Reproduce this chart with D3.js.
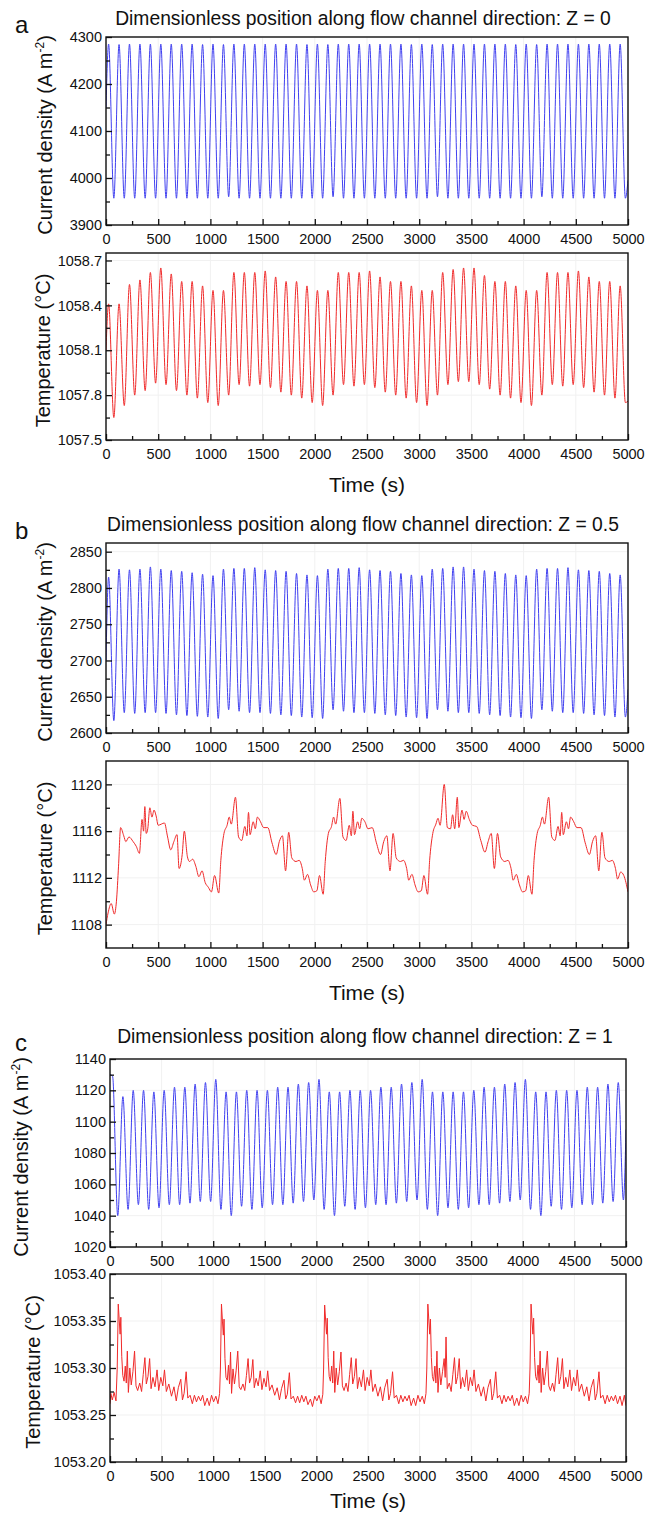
<!DOCTYPE html>
<html>
<head>
<meta charset="utf-8">
<script src="https://cdn.jsdelivr.net/npm/d3@7/dist/d3.min.js"></script>
<style>
  body { margin: 0; background: #fff; }
  text { font-family: "Liberation Sans", Arial, sans-serif; fill: #111; }
</style>
</head>
<body>
<div id="viz"></div>
<script>
// ---- shared x data (time of oscillation maxima / minima, s) ----
const xTicks = [0, 500, 1000, 1500, 2000, 2500, 3000, 3500, 4000, 4500, 5000];
const xMinor = [250, 750, 1250, 1750, 2250, 2750, 3250, 3750, 4250, 4750];
const peakT = [25,125,225,325,425,525,625,725,825,925,1025,1125,1225,1325,1425,1525,1625,1725,1825,1925,
  2025,2125,2225,2325,2425,2525,2625,2725,2825,2925,3025,3125,3225,3325,3425,3525,3625,3725,3825,3925,
  4025,4125,4225,4325,4425,4525,4625,4725,4825,4925];
const troughT = [75,175,275,375,475,575,675,775,875,975,1075,1175,1275,1375,1475,1575,1675,1775,1875,1975,
  2075,2175,2275,2375,2475,2575,2675,2775,2875,2975,3075,3175,3275,3375,3475,3575,3675,3775,3875,3975,
  4075,4175,4275,4375,4475,4575,4675,4775,4875,4975];

// ---- panel a : Z = 0 ----
const aCurStart = [0, 4150], aCurEnd = [5000, 3995];
const aCurPeaks = [4285,4284,4285,4285,4285,4285,4285,4285,4285,4284,4285,4284,4285,4285,4285,4285,4285,4285,4285,4284,
  4285,4284,4285,4285,4285,4285,4285,4285,4285,4284,4285,4284,4285,4285,4285,4285,4285,4285,4285,4284,
  4285,4284,4285,4285,4285,4285,4285,4285,4285,4285];
const aCurTroughs = [3957,3957,3957,3957,3957,3957,3957,3957,3957,3957,3957,3960,3957,3957,3957,3957,3957,3957,3957,3957,
  3957,3960,3957,3957,3957,3957,3957,3957,3957,3957,3957,3960,3957,3957,3957,3957,3957,3957,3957,3957,
  3957,3960,3957,3957,3957,3957,3957,3957,3957,3957];
const aTempStart = [0, 1058.1], aTempEnd = [5000, 1057.76];
const aTempPeaks = [1058.41,1058.41,1058.54,1058.57,1058.62,1058.65,1058.61,1058.56,1058.56,1058.53,
  1058.50,1058.50,1058.62,1058.62,1058.62,1058.63,1058.59,1058.56,1058.56,1058.53,
  1058.50,1058.50,1058.62,1058.62,1058.62,1058.63,1058.59,1058.56,1058.56,1058.53,
  1058.50,1058.50,1058.62,1058.64,1058.65,1058.65,1058.60,1058.56,1058.56,1058.53,
  1058.50,1058.50,1058.62,1058.62,1058.62,1058.63,1058.59,1058.56,1058.56,1058.53];
const aTempTroughs = [1057.65,1057.73,1057.80,1057.83,1057.88,1057.87,1057.83,1057.80,1057.78,1057.75,
  1057.73,1057.80,1057.87,1057.86,1057.87,1057.85,1057.82,1057.80,1057.78,1057.75,
  1057.73,1057.80,1057.87,1057.86,1057.87,1057.85,1057.82,1057.80,1057.78,1057.75,
  1057.73,1057.80,1057.87,1057.89,1057.89,1057.87,1057.84,1057.80,1057.78,1057.75,
  1057.73,1057.80,1057.87,1057.86,1057.87,1057.85,1057.82,1057.80,1057.78,1057.75];

// ---- panel b : Z = 0.5 ----
const bCurStart = [0, 2700], bCurEnd = [5000, 2660];
const bCurPeaks = [2815,2826,2825,2826,2829,2826,2824,2823,2821,2819,
  2817,2826,2827,2827,2828,2825,2824,2823,2820,2818,
  2817,2826,2827,2827,2828,2825,2824,2823,2820,2818,
  2817,2826,2827,2829,2829,2826,2824,2823,2820,2818,
  2817,2826,2827,2827,2828,2825,2824,2823,2820,2818];
const bCurTroughs = [2617,2628,2627,2628,2628,2627,2625,2624,2623,2622,
  2620,2632,2630,2628,2628,2627,2625,2624,2622,2621,
  2620,2632,2630,2628,2628,2627,2625,2624,2622,2621,
  2620,2632,2630,2628,2628,2627,2625,2624,2622,2621,
  2620,2632,2630,2628,2628,2627,2625,2624,2622,2622];
const bTemp = [
  [0,1108],[20,1109],[50,1109.8],[80,1108.9],[100,1110],[120,1113],[140,1116.3],[170,1115.6],[190,1115.1],
  [220,1115.5],[260,1115.1],[290,1114.7],[320,1114.1],[345,1117],[360,1116],[372,1118.1],[385,1115.8],
  [400,1116.2],[420,1118],[440,1117.2],[460,1117.8],[480,1117.3],[500,1116.5],[530,1116.6],[560,1116.7],
  [590,1115.5],[620,1114.4],[650,1115.1],[680,1115.7],[700,1112.8],[730,1114],[750,1116],[780,1113.8],
  [800,1113.4],[830,1113.6],[860,1113],[890,1112.1],[920,1112.6],[950,1111.6],[980,1111.2],[1010,1110.8],
  [1040,1112.2],[1080,1110.7],
  [1100,1113.5],[1130,1115.8],[1160,1116.5],[1180,1117.2],[1200,1116.6],[1240,1118.9],[1270,1115.5],
  [1300,1115.2],[1330,1116.4],[1350,1115.6],[1365,1117.6],[1380,1115.7],[1410,1116.8],[1430,1116.2],
  [1450,1117.2],[1480,1116.8],[1510,1116.3],[1550,1116.3],[1590,1115],[1630,1114],[1660,1115.1],
  [1690,1115.6],[1720,1112.6],[1750,1115.9],[1780,1113.7],[1820,1113.4],[1850,1113.5],[1880,1112.8],
  [1900,1111.8],[1930,1112.3],[1960,1111.4],[1990,1110.8],[2020,1110.9],[2045,1112.2],[2080,1110.6],
  [2100,1113.4],[2130,1115.8],[2160,1116.4],[2180,1117.2],[2200,1116.6],[2240,1118.8],[2270,1115.5],
  [2300,1115.2],[2330,1116.5],[2350,1115.6],[2365,1117.7],[2380,1115.7],[2410,1116.8],[2430,1116.2],
  [2450,1117.1],[2480,1116.8],[2510,1116.2],[2550,1116.3],[2590,1115],[2630,1114],[2660,1115.1],
  [2690,1115.6],[2720,1112.6],[2750,1115.8],[2780,1113.7],[2820,1113.4],[2850,1113.5],[2880,1112.8],
  [2900,1111.8],[2930,1112.3],[2960,1111.4],[2990,1110.8],[3020,1110.9],[3045,1112.2],[3080,1110.6],
  [3100,1113.5],[3130,1115.8],[3160,1116.6],[3180,1117.1],[3200,1116.5],[3240,1120],[3270,1116.3],
  [3300,1116.2],[3320,1117.4],[3340,1116.2],[3365,1118.9],[3380,1116.3],[3410,1117.8],[3430,1117],
  [3450,1117.7],[3480,1117],[3510,1116.5],[3550,1116.4],[3590,1115.2],[3630,1114.2],[3660,1115.1],
  [3690,1115.8],[3720,1112.8],[3750,1115.8],[3780,1113.8],[3820,1113.4],[3850,1113.5],[3880,1112.8],
  [3900,1111.8],[3930,1112.3],[3960,1111.4],[3990,1110.8],[4020,1110.9],[4045,1112.2],[4080,1110.6],
  [4100,1113.5],[4130,1115.8],[4160,1116.5],[4180,1117.2],[4200,1116.6],[4240,1118.9],[4270,1115.5],
  [4300,1115.2],[4330,1116.4],[4350,1115.6],[4365,1117.6],[4380,1115.7],[4410,1116.8],[4430,1116.2],
  [4450,1117.2],[4480,1116.8],[4510,1116.3],[4550,1116.3],[4590,1115],[4630,1114],[4660,1115.1],
  [4690,1115.6],[4720,1112.6],[4750,1115.9],[4780,1113.7],[4820,1113.4],[4850,1113.5],[4880,1112.8],
  [4900,1111.9],[4930,1112.5],[4960,1112.2],[5000,1110.8]
];

// ---- panel c : Z = 1 ----
const cCurStart = [0, 1130], cCurEnd = [5000, 1095];
const cCurPeaks = [1129,1116,1120,1120,1119,1120,1122,1122,1124,1125,
  1127,1119,1119,1120,1120,1120,1122,1122,1124,1125,
  1127,1119,1119,1120,1120,1120,1122,1122,1124,1125,
  1127,1119,1119,1119,1119,1120,1122,1122,1124,1125,
  1127,1119,1119,1120,1120,1120,1122,1122,1124,1125];
const cCurTroughs = [1040,1044,1047,1044,1045,1047,1047,1048,1049,1049,
  1044,1040,1046,1044,1045,1047,1047,1048,1049,1050,
  1044,1040,1046,1044,1045,1047,1047,1048,1049,1050,
  1044,1040,1045,1044,1045,1047,1047,1048,1049,1050,
  1044,1040,1046,1044,1045,1047,1047,1048,1049,1050];
const cTemp = [
  [0,1053.262],[8,1053.273],[22,1053.266],[40,1053.274],[58,1053.265],[70,1053.300],[80,1053.368],[90,1053.350],
  [98,1053.336],[105,1053.354],[114,1053.312],[124,1053.292],[136,1053.286],[148,1053.302],[158,1053.284],
  [168,1053.318],[178,1053.274],[192,1053.300],[206,1053.282],[222,1053.296],[238,1053.318],[252,1053.281],
  [268,1053.276],[288,1053.284],[306,1053.275],[322,1053.293],[338,1053.311],[352,1053.283],[368,1053.291],
  [384,1053.310],[398,1053.278],[416,1053.290],[436,1053.280],[456,1053.298],[472,1053.276],[492,1053.290],
  [512,1053.281],[528,1053.298],[546,1053.275],[570,1053.283],[596,1053.270],[620,1053.280],[642,1053.265],
  [662,1053.279],[686,1053.288],[702,1053.266],[718,1053.273],[738,1053.296],[754,1053.268],[776,1053.271],
  [798,1053.262],[818,1053.271],[838,1053.264],[858,1053.270],[878,1053.265],[898,1053.271],[918,1053.260],
  [942,1053.268],[962,1053.260],[984,1053.271],[1004,1053.264],[1026,1053.270],[1046,1053.262],[1062,1053.273],
  [1070,1053.300],[1080,1053.368],[1090,1053.349],[1098,1053.335],[1105,1053.352],[1114,1053.310],[1124,1053.290],
  [1136,1053.287],[1148,1053.303],[1158,1053.283],[1168,1053.317],[1178,1053.273],[1192,1053.299],[1206,1053.283],
  [1222,1053.297],[1238,1053.318],[1252,1053.280],[1268,1053.277],[1288,1053.283],[1306,1053.276],[1322,1053.292],
  [1338,1053.310],[1352,1053.284],[1368,1053.290],[1384,1053.309],[1398,1053.279],[1416,1053.289],[1436,1053.281],
  [1456,1053.297],[1472,1053.277],[1492,1053.289],[1512,1053.280],[1528,1053.297],[1546,1053.276],[1570,1053.282],
  [1596,1053.271],[1620,1053.279],[1642,1053.266],[1662,1053.278],[1686,1053.287],[1702,1053.267],[1718,1053.272],
  [1738,1053.295],[1754,1053.267],[1776,1053.270],[1798,1053.263],[1818,1053.270],[1838,1053.263],[1858,1053.271],
  [1878,1053.264],[1898,1053.270],[1918,1053.261],[1942,1053.267],[1962,1053.259],[1984,1053.270],[2004,1053.265],
  [2026,1053.271],[2046,1053.262],[2062,1053.272],
  [2070,1053.300],[2080,1053.367],[2090,1053.350],[2098,1053.336],[2105,1053.353],[2114,1053.311],[2124,1053.291],
  [2136,1053.286],[2148,1053.302],[2158,1053.284],[2168,1053.318],[2178,1053.274],[2192,1053.300],[2206,1053.282],
  [2222,1053.296],[2238,1053.317],[2252,1053.281],[2268,1053.276],[2288,1053.284],[2306,1053.275],[2322,1053.293],
  [2338,1053.311],[2352,1053.283],[2368,1053.291],[2384,1053.310],[2398,1053.278],[2416,1053.290],[2436,1053.280],
  [2456,1053.298],[2472,1053.276],[2492,1053.290],[2512,1053.281],[2528,1053.298],[2546,1053.275],[2570,1053.283],
  [2596,1053.270],[2620,1053.280],[2642,1053.265],[2662,1053.279],[2686,1053.288],[2702,1053.266],[2718,1053.273],
  [2738,1053.296],[2754,1053.268],[2776,1053.271],[2798,1053.262],[2818,1053.271],[2838,1053.264],[2858,1053.270],
  [2878,1053.265],[2898,1053.271],[2918,1053.260],[2942,1053.268],[2962,1053.260],[2984,1053.271],[3004,1053.264],
  [3026,1053.270],[3046,1053.262],[3062,1053.273],
  [3070,1053.300],[3080,1053.368],[3090,1053.350],[3098,1053.336],[3105,1053.352],[3114,1053.311],[3124,1053.291],
  [3136,1053.286],[3148,1053.302],[3158,1053.284],[3168,1053.318],[3178,1053.274],[3192,1053.300],[3206,1053.282],
  [3222,1053.296],[3238,1053.310],[3248,1053.290],[3256,1053.333],[3268,1053.278],[3288,1053.284],[3306,1053.275],
  [3322,1053.293],[3338,1053.311],[3352,1053.283],[3368,1053.291],[3384,1053.310],[3398,1053.278],[3416,1053.290],
  [3436,1053.280],[3456,1053.298],[3472,1053.276],[3492,1053.290],[3512,1053.281],[3528,1053.298],[3546,1053.275],
  [3570,1053.283],[3596,1053.270],[3620,1053.280],[3642,1053.265],[3662,1053.279],[3686,1053.288],[3702,1053.266],
  [3718,1053.273],[3738,1053.296],[3754,1053.268],[3776,1053.271],[3798,1053.262],[3818,1053.271],[3838,1053.264],
  [3858,1053.270],[3878,1053.265],[3898,1053.271],[3918,1053.260],[3942,1053.268],[3962,1053.260],[3984,1053.271],
  [4004,1053.264],[4026,1053.270],[4046,1053.262],[4062,1053.273],
  [4070,1053.300],[4080,1053.368],[4090,1053.349],[4098,1053.336],[4105,1053.353],[4114,1053.311],[4124,1053.291],
  [4136,1053.287],[4148,1053.303],[4158,1053.284],[4168,1053.318],[4178,1053.274],[4192,1053.300],[4206,1053.282],
  [4222,1053.296],[4238,1053.318],[4252,1053.281],[4268,1053.276],[4288,1053.284],[4306,1053.275],[4322,1053.293],
  [4338,1053.311],[4352,1053.283],[4368,1053.291],[4384,1053.310],[4398,1053.278],[4416,1053.290],[4436,1053.280],
  [4456,1053.298],[4472,1053.276],[4492,1053.290],[4512,1053.281],[4528,1053.298],[4546,1053.275],[4570,1053.283],
  [4596,1053.270],[4620,1053.280],[4642,1053.265],[4662,1053.279],[4686,1053.288],[4702,1053.266],[4718,1053.273],
  [4738,1053.296],[4754,1053.268],[4776,1053.271],[4798,1053.262],[4818,1053.271],[4838,1053.264],[4858,1053.270],
  [4878,1053.265],[4898,1053.271],[4918,1053.262],[4942,1053.270],[4962,1053.260],[4984,1053.271],[5000,1053.260]
];

const blue = "#4040f0", red = "#f02a2a";

// interleave maxima / minima into one polyline
function oscillation(start, peaks, troughs, end) {
  const pts = [start];
  peaks.forEach((p, i) => { pts.push([peakT[i], p]); pts.push([troughT[i], troughs[i]]); });
  pts.push(end);
  return pts;
}

const svg = d3.select("#viz").append("svg")
  .attr("width", 646).attr("height", 1516)
  .style("background", "#fff");

let clipId = 0;

function drawPanel({left, right, top, height, yDomain, yTicks, yMinor, yFmt, data, color, curve, yLabel, labelX, xTitle}) {
  const bottom = top + height,
        x = d3.scaleLinear().domain([0, 5000]).range([left, right]),
        y = d3.scaleLinear().domain(yDomain).range([bottom, top]),
        g = svg.append("g");

  // faint grid
  g.append("g").selectAll("line").data(xTicks).join("line")
    .attr("x1", d => x(d)).attr("x2", d => x(d)).attr("y1", top).attr("y2", bottom)
    .attr("stroke", "#f1f1f1").attr("stroke-width", 1);
  g.append("g").selectAll("line").data(yTicks).join("line")
    .attr("x1", left).attr("x2", right).attr("y1", d => y(d)).attr("y2", d => y(d))
    .attr("stroke", "#f1f1f1").attr("stroke-width", 1);

  const id = "clip" + (clipId++);
  svg.append("clipPath").attr("id", id).append("rect")
    .attr("x", left).attr("y", top).attr("width", right - left).attr("height", height);

  const line = d3.line().x(d => x(d[0])).y(d => y(d[1])).curve(curve);
  g.append("path")
    .attr("clip-path", `url(#${id})`)
    .attr("d", line(data))
    .style("fill", "none")
    .style("stroke", color)
    .style("stroke-width", 1);

  // axes, ticks pointing inward
  g.append("g").attr("transform", `translate(0,${bottom})`)
    .call(d3.axisBottom(x).tickValues(xTicks).tickSize(-6).tickPadding(9).tickFormat(d3.format("d")));
  g.append("g").attr("transform", `translate(0,${bottom})`)
    .call(d3.axisBottom(x).tickValues(xMinor).tickSize(-4).tickFormat(""));
  g.append("g").attr("transform", `translate(${left},0)`)
    .call(d3.axisLeft(y).tickValues(yTicks).tickSize(-6).tickPadding(4).tickFormat(d3.format(yFmt)));
  g.append("g").attr("transform", `translate(${left},0)`)
    .call(d3.axisLeft(y).tickValues(yMinor).tickSize(-4).tickFormat(""));
  g.selectAll(".domain").remove();
  g.selectAll(".tick line").attr("stroke", "#111").attr("stroke-width", 1.3);
  g.selectAll(".tick text").style("font-size", "14.5px").attr("fill", "#111");

  g.append("rect")
    .attr("x", left).attr("y", top).attr("width", right - left).attr("height", height)
    .attr("fill", "none").attr("stroke", "#111").attr("stroke-width", 1.4);

  // y title
  const yt = g.append("text")
    .attr("transform", `translate(${labelX},${top + height / 2 + 4}) rotate(-90)`)
    .attr("text-anchor", "middle")
    .style("font-size", "20px");
  yt.append("tspan").text(yLabel[0]);
  if (yLabel[1]) {
    yt.append("tspan").attr("dy", -8).style("font-size", "12px").text(yLabel[1]);
    yt.append("tspan").attr("dy", 8).text(yLabel[2]);
  }

  if (xTitle) {
    g.append("text")
      .attr("x", (left + right) / 2).attr("y", Math.min(bottom + 52, 1508))
      .attr("text-anchor", "middle")
      .style("font-size", "21px")
      .text("Time (s)");
  }
}

function heading(letter, title, y, left, right) {
  svg.append("text").attr("x", 15).attr("y", y + 8).style("font-size", "24px").text(letter);
  svg.append("text").attr("x", (left + right) / 2 - 4).attr("y", y)
    .attr("text-anchor", "middle").style("font-size", "19.3px").text(title);
}

const curLabel = ["Current density (A m", "-2", ")"],
      tempLabel = ["Temperature (\u00B0C)"];

// a
heading("a", "Dimensionless position along flow channel direction: Z = 0", 25, 106, 628);
drawPanel({left: 106, right: 628, top: 37, height: 188, yDomain: [3900, 4300],
  yTicks: [3900, 4000, 4100, 4200, 4300], yMinor: [3950, 4050, 4150, 4250], yFmt: "d",
  data: oscillation(aCurStart, aCurPeaks, aCurTroughs, aCurEnd), color: blue, curve: d3.curveMonotoneX,
  yLabel: curLabel, labelX: 52});
drawPanel({left: 106, right: 628, top: 253, height: 187, yDomain: [1057.5, 1058.75],
  yTicks: [1057.5, 1057.8, 1058.1, 1058.4, 1058.7], yMinor: [1057.65, 1057.95, 1058.25, 1058.55], yFmt: ".1f",
  data: oscillation(aTempStart, aTempPeaks, aTempTroughs, aTempEnd), color: red, curve: d3.curveMonotoneX,
  yLabel: tempLabel, labelX: 50, xTitle: true});

// b
heading("b", "Dimensionless position along flow channel direction: Z = 0.5", 531, 106, 628);
drawPanel({left: 106, right: 628, top: 543, height: 190, yDomain: [2600, 2862],
  yTicks: [2600, 2650, 2700, 2750, 2800, 2850], yMinor: [2625, 2675, 2725, 2775, 2825], yFmt: "d",
  data: oscillation(bCurStart, bCurPeaks, bCurTroughs, bCurEnd), color: blue, curve: d3.curveMonotoneX,
  yLabel: curLabel, labelX: 52});
drawPanel({left: 106, right: 628, top: 761, height: 187, yDomain: [1106, 1122],
  yTicks: [1108, 1112, 1116, 1120], yMinor: [1110, 1114, 1118], yFmt: "d",
  data: bTemp, color: red, curve: d3.curveMonotoneX,
  yLabel: tempLabel, labelX: 52, xTitle: true});

// c
heading("c", "Dimensionless position along flow channel direction: Z = 1", 1043, 110, 628);
drawPanel({left: 110, right: 626, top: 1059, height: 188, yDomain: [1020, 1140],
  yTicks: [1020, 1040, 1060, 1080, 1100, 1120, 1140], yMinor: [1030, 1050, 1070, 1090, 1110, 1130], yFmt: "d",
  data: oscillation(cCurStart, cCurPeaks, cCurTroughs, cCurEnd), color: blue, curve: d3.curveMonotoneX,
  yLabel: curLabel, labelX: 28});
drawPanel({left: 110, right: 626, top: 1274, height: 188, yDomain: [1053.2, 1053.4],
  yTicks: [1053.2, 1053.25, 1053.3, 1053.35, 1053.4], yMinor: [1053.225, 1053.275, 1053.325, 1053.375], yFmt: ".2f",
  data: cTemp, color: red, curve: d3.curveLinear,
  yLabel: tempLabel, labelX: 40, xTitle: true});
</script>
</body>
</html>
